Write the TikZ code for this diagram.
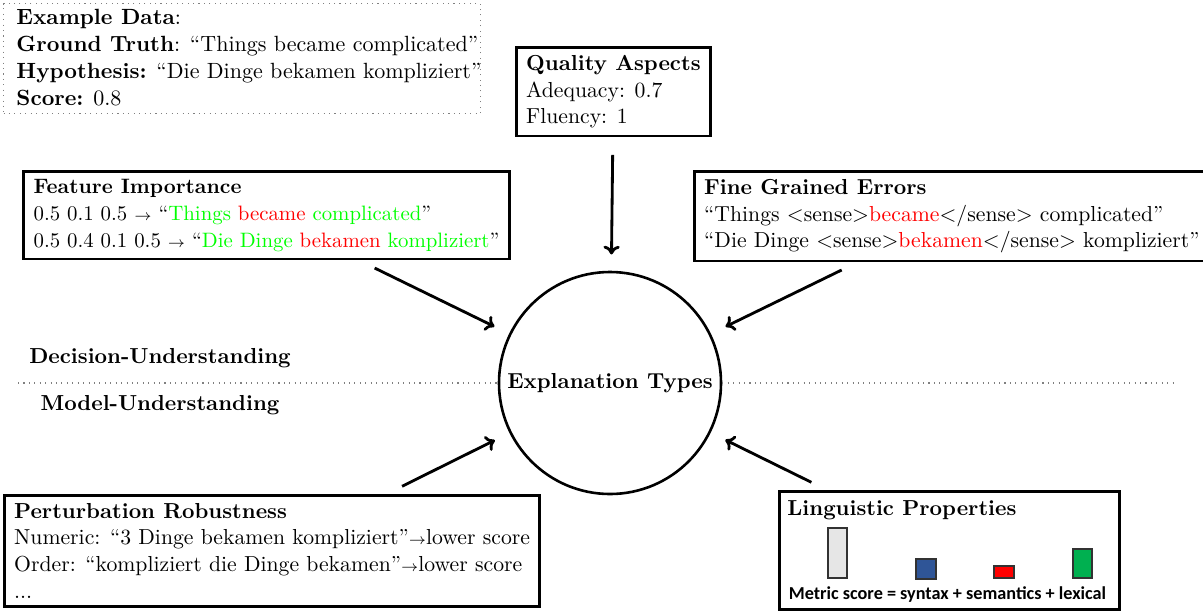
\documentclass[tikz,border=0pt]{standalone}
\usepackage{fontspec}
\newfontfamily\calib{Carlito}
\usetikzlibrary{calc,arrows.meta}
\definecolor{hgreen}{RGB}{0,255,0}
\definecolor{barblue}{RGB}{47,85,151}
\definecolor{bargreen}{RGB}{0,176,80}
\definecolor{bargray}{RGB}{230,230,230}
\definecolor{baredge}{RGB}{50,50,50}
\newcommand{\smallarr}{{\scriptsize$\rightarrow$}}
\begin{document}
\begin{tikzpicture}[x=0.4608pt,y=-0.4608pt,
  every node/.style={font=\fontsize{10pt}{12.4pt}\selectfont},
  box/.style={draw, line width=1.3pt, align=left, anchor=north west, inner xsep=4.5pt, inner ysep=3.5pt},
  arr/.style={-{To[length=4pt,width=7.5pt]}, line width=1.3pt, shorten <=8pt, shorten >=7.5pt},
  bar/.style={draw=baredge, line width=0.8pt},
  sep/.style={dotted, gray, line width=0.5pt}]
\useasboundingbox (0,0) rectangle (1203,610);

% example data
\node[draw=gray, dotted, line width=0.5pt, anchor=north west, minimum width=219.8pt, minimum height=50.7pt, inner sep=0pt] (exbox) at (3,3) {};
\node[anchor=north west, align=left, inner sep=0pt, font=\fontsize{10.15pt}{12.4pt}\selectfont] (extxt) at (16,9)
 {\textbf{Example Data}:\\
  \textbf{Ground Truth}: “Things became complicated”\\
  \textbf{Hypothesis:} “Die Dinge bekamen kompliziert”\\
  \textbf{Score:} 0.8};

% quality aspects
\node[box] (qa) at (515,46) {\textbf{Quality Aspects}\\ Adequacy: 0.7\\ Fluency: 1};

% feature importance
\node[box, font=\fontsize{9.6pt}{12.4pt}\selectfont, inner xsep=4.7pt] (fi) at (22,170)
 {\textbf{Feature Importance}\\
  0.5 0.1 0.5 \smallarr{} “{\color{hgreen}Things} {\color{red}became} {\color{hgreen}complicated}”\\
  0.5 0.4 0.1 0.5 \smallarr{} “{\color{hgreen}Die Dinge} {\color{red}bekamen} {\color{hgreen}kompliziert}”};

% fine grained errors
\node[box] (fge) at (693,170)
 {\textbf{Fine Grained Errors}\\
  “Things $<$sense$>${\color{red}became}$<$/sense$>$ complicated”\\
  “Die Dinge $<$sense$>${\color{red}bekamen}$<$/sense$>$ kompliziert”};

% perturbation robustness
\node[box] (pert) at (3,494)
 {\textbf{Perturbation Robustness}\\
  Numeric: “3 Dinge bekamen kompliziert”\smallarr lower score\\
  Order: “kompliziert die Dinge bekamen”\smallarr lower score\\
  ...};

% linguistic properties
\node[draw, line width=1.3pt, anchor=north west, minimum width=156.7pt, minimum height=54.4pt, inner sep=0pt] (lp) at (778,490) {};
\node[anchor=base west, inner sep=0pt] (lptitle) at (787,515) {\textbf{Linguistic Properties}};
\draw[bar, fill=bargray] (828,528) rectangle (847,578);
\draw[bar, fill=barblue] (916,559) rectangle (936,579);
\draw[bar, fill=red] (994,566) rectangle (1014,578);
\draw[bar, fill=bargreen] (1073,549) rectangle (1092,578);
\node[anchor=base, inner sep=0pt, font=\calib\bfseries\fontsize{8.4pt}{10pt}\selectfont] (lpcap) at (947.5,599) {Metric score = syntax + semantics + lexical};

% centre
\node[circle, draw, line width=1.2pt, minimum size=102.3pt, inner sep=0pt, font=\bfseries] (circ) at (610,383) {Explanation Types};

\node[font=\bfseries] (du) at (160,358) {Decision-Understanding};
\node[font=\bfseries] (mu) at (160,405) {Model-Understanding};
\coordinate (dl) at (18,383);
\coordinate (dr) at (1175,383);
\draw[sep] (dl) -- (circ.west);
\draw[sep] (circ.east) -- (dr);

% arrows
\draw[arr] (qa) -- (circ);
\draw[arr] (fi) -- (circ);
\draw[arr] (fge) -- (circ);
\draw[arr] (pert) -- (circ);
\draw[arr] (lp) -- (circ);
\end{tikzpicture}
\end{document}
